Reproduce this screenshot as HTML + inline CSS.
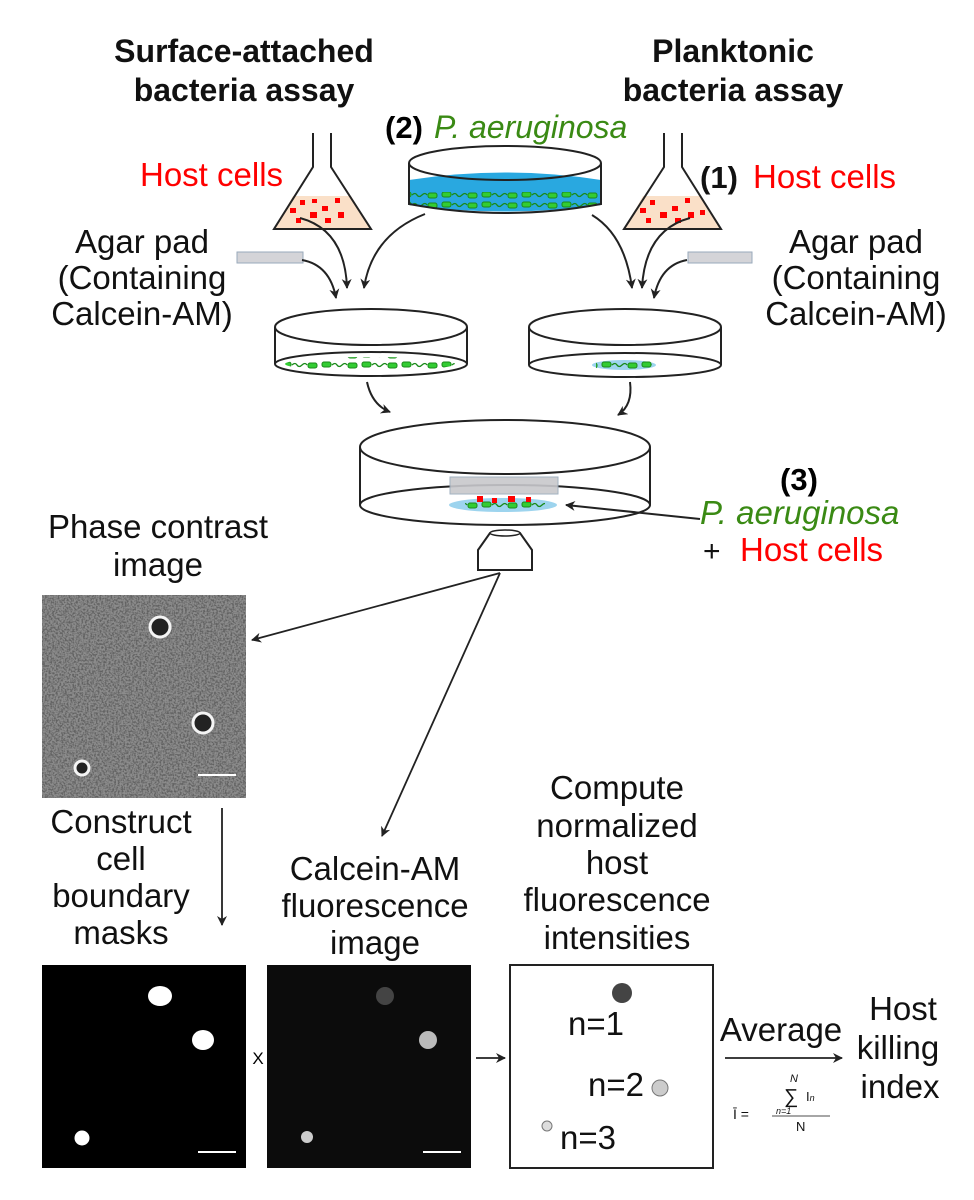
<!DOCTYPE html>
<html><head><meta charset="utf-8"><style>
html,body{margin:0;padding:0;background:#fff}
svg{display:block}
text{font-family:"Liberation Sans",sans-serif}
</style></head><body>
<svg width="974" height="1200" viewBox="0 0 974 1200" xmlns="http://www.w3.org/2000/svg">
<defs>
<marker id="ah" markerWidth="10" markerHeight="10" refX="9" refY="5" orient="auto" markerUnits="userSpaceOnUse">
<path d="M0,0 L10,5 L0,10 L3,5 Z" fill="#222"/></marker>
<filter id="noise" x="0" y="0" width="100%" height="100%">
<feTurbulence type="fractalNoise" baseFrequency="0.55" numOctaves="2" seed="3"/>
<feColorMatrix type="matrix" values="0 0 0 0 0.12  0 0 0 0 0.12  0 0 0 0 0.12  -3.5 0 0 0 2.1"/>
</filter>
<pattern id="bac" width="40" height="10" patternUnits="userSpaceOnUse">
<rect x="2" y="2" width="9" height="5" rx="2" fill="#3c3" stroke="#1a8a1a" stroke-width="1"/>
<path d="M12,5 q3,-3 5,0 t5,0 t5,0" stroke="#1a8a1a" fill="none" stroke-width="1.3"/>
<rect x="28" y="3" width="9" height="5" rx="2" fill="#3c3" stroke="#1a8a1a" stroke-width="1"/>
</pattern>
</defs>

<g font-weight="bold" font-size="32" text-anchor="middle" fill="#111">
<text x="244" y="62">Surface-attached</text>
<text x="244" y="101">bacteria assay</text>
<text x="733" y="62">Planktonic</text>
<text x="733" y="101">bacteria assay</text>
</g>
<text x="385" y="138" font-size="31" font-weight="bold">(2)</text>
<text x="434" y="138" font-size="32" font-style="italic" fill="#3a8a14">P. aeruginosa</text>
<text x="140" y="186" font-size="33" fill="#f00">Host cells</text>
<text x="700" y="188" font-size="31" font-weight="bold" fill="#111">(1)</text>
<text x="753" y="188" font-size="33" fill="#f00">Host cells</text>

<!-- left flask -->
<path d="M293,196 H351 L370,228 H275 Z" fill="#fae0c8"/>
<path d="M313,133 V167 L274,229 H371 L331,167 V133" stroke="#222" stroke-width="2" fill="none"/>
<g fill="#f00"><rect x="290" y="208" width="6" height="5"/><rect x="300" y="200" width="5" height="5"/><rect x="310" y="212" width="7" height="6"/><rect x="322" y="206" width="6" height="5"/><rect x="335" y="198" width="5" height="5"/><rect x="338" y="212" width="6" height="6"/><rect x="296" y="218" width="5" height="5"/><rect x="325" y="218" width="6" height="5"/><rect x="312" y="199" width="5" height="4"/></g>
<!-- right flask -->
<path d="M643,196 H701 L720,228 H625 Z" fill="#fae0c8"/>
<path d="M664,133 V167 L624,229 H721 L682,167 V133" stroke="#222" stroke-width="2" fill="none"/>
<g fill="#f00"><rect x="640" y="208" width="6" height="5"/><rect x="650" y="200" width="5" height="5"/><rect x="660" y="212" width="7" height="6"/><rect x="672" y="206" width="6" height="5"/><rect x="685" y="198" width="5" height="5"/><rect x="688" y="212" width="6" height="6"/><rect x="646" y="218" width="5" height="5"/><rect x="675" y="218" width="6" height="5"/><rect x="700" y="210" width="5" height="5"/></g>

<!-- center dish -->
<path d="M409,180 Q505,165 601,180 V205 Q505,218 409,205 Z" fill="#29a8e0"/>
<path d="M409,192 H601 V205 Q505,218 409,205 Z" fill="url(#bac)"/>
<ellipse cx="505" cy="163" rx="96" ry="17" fill="none" stroke="#222" stroke-width="2"/>
<path d="M409,163 V204 Q505,222 601,204 V163" fill="none" stroke="#222" stroke-width="2"/>

<!-- agar pads -->
<rect x="237" y="252" width="66" height="11" fill="#d4d4d8" stroke="#9ab" stroke-width="1"/>
<rect x="688" y="252" width="64" height="11" fill="#d4d4d8" stroke="#9ab" stroke-width="1"/>
<g font-size="33" text-anchor="middle" fill="#111">
<text x="142" y="253">Agar pad</text><text x="142" y="289">(Containing</text><text x="142" y="325">Calcein-AM)</text>
<text x="856" y="253">Agar pad</text><text x="856" y="289">(Containing</text><text x="856" y="325">Calcein-AM)</text>
</g>

<!-- arrows top -->
<g stroke="#222" stroke-width="2" fill="none" marker-end="url(#ah)">
<path d="M302,260 Q330,265 336,298"/>
<path d="M300,218 Q345,230 347,288"/>
<path d="M425,214 Q372,235 364,288"/>
<path d="M687,260 Q660,265 654,298"/>
<path d="M690,218 Q645,230 642,288"/>
<path d="M592,215 Q625,235 632,288"/>
<path d="M367,382 Q372,405 390,412"/>
<path d="M630,382 Q633,405 618,415"/>
</g>

<!-- mid dishes -->
<ellipse cx="371" cy="327" rx="96" ry="18" fill="none" stroke="#222" stroke-width="2"/>
<ellipse cx="371" cy="364" rx="96" ry="12" fill="#fff" stroke="#222" stroke-width="2"/>
<ellipse cx="370" cy="364" rx="85" ry="7" fill="url(#bac)"/>
<path d="M275,327 V364 M467,327 V364" stroke="#222" stroke-width="2"/>
<ellipse cx="625" cy="327" rx="96" ry="18" fill="none" stroke="#222" stroke-width="2"/>
<ellipse cx="625" cy="365" rx="96" ry="12" fill="#fff" stroke="#222" stroke-width="2"/>
<ellipse cx="624" cy="365" rx="32" ry="5" fill="#9dd4ee"/>
<rect x="596" y="361" width="56" height="8" fill="url(#bac)"/>
<path d="M529,327 V365 M721,327 V365" stroke="#222" stroke-width="2"/>

<!-- big dish -->
<ellipse cx="505" cy="447" rx="145" ry="27" fill="none" stroke="#222" stroke-width="2"/>
<path d="M360,447 V505 M650,447 V505" stroke="#222" stroke-width="2"/>
<ellipse cx="505" cy="505" rx="145" ry="20" fill="none" stroke="#222" stroke-width="2"/>
<ellipse cx="503" cy="505" rx="54" ry="7" fill="#9dd4ee"/>
<rect x="465" y="500" width="80" height="10" fill="url(#bac)"/>
<rect x="450" y="477" width="108" height="17" fill="#c8c8cc" stroke="#9ab" stroke-width="1" opacity="0.9"/>
<g fill="#f00"><rect x="477" y="496" width="6" height="6"/><rect x="492" y="498" width="5" height="5"/><rect x="508" y="496" width="7" height="6"/><rect x="526" y="497" width="5" height="5"/></g>
<path d="M700,519 L566,505" stroke="#222" stroke-width="2" fill="none" marker-end="url(#ah)"/>

<text x="780" y="490" font-size="31" font-weight="bold">(3)</text>
<text x="700" y="524" font-size="33" font-style="italic" fill="#3a8a14">P. aeruginosa</text>
<text x="703" y="561" font-size="30" fill="#111">+</text>
<text x="740" y="561" font-size="33" fill="#f00">Host cells</text>

<!-- objective -->
<path d="M490,533 H520 L532,550 V570 H478 V550 Z" fill="#fff" stroke="#222" stroke-width="2"/>
<ellipse cx="505" cy="533" rx="15" ry="3" fill="#fff" stroke="#222" stroke-width="1.5"/>

<text x="158" y="538" font-size="33" text-anchor="middle" fill="#111">Phase contrast</text>
<text x="158" y="576" font-size="33" text-anchor="middle" fill="#111">image</text>

<!-- phase image -->
<rect x="42" y="595" width="204" height="203" fill="#8c8c8c"/>
<rect x="42" y="595" width="204" height="203" filter="url(#noise)"/>
<g stroke="#f4f4f4" stroke-width="3" fill="#222">
<circle cx="160" cy="627" r="10"/><circle cx="203" cy="723" r="10"/><circle cx="82" cy="768" r="7"/>
</g>
<line x1="198" y1="775" x2="236" y2="775" stroke="#fff" stroke-width="2"/>

<g stroke="#222" stroke-width="1.8" fill="none" marker-end="url(#ah)">
<path d="M500,573 L252,640"/>
<path d="M500,573 L382,836"/>
<path d="M222,808 V925"/>
<path d="M476,1058 H505"/>
<path d="M725,1058 H842"/>
</g>

<g font-size="33" text-anchor="middle" fill="#111">
<text x="121" y="833">Construct</text><text x="121" y="870">cell</text><text x="121" y="907">boundary</text><text x="121" y="944">masks</text>
<text x="375" y="880">Calcein-AM</text><text x="375" y="917">fluorescence</text><text x="375" y="954">image</text>
<text x="617" y="799">Compute</text><text x="617" y="837">normalized</text><text x="617" y="874">host</text><text x="617" y="911">fluorescence</text><text x="617" y="949">intensities</text>
<text x="781" y="1041">Average</text>
<text x="903" y="1020">Host</text><text x="898" y="1059">killing</text><text x="900" y="1098">index</text>
</g>

<!-- mask images -->
<rect x="42" y="965" width="204" height="203" fill="#000"/>
<g fill="#fff"><ellipse cx="160" cy="996" rx="12" ry="10"/><ellipse cx="203" cy="1040" rx="11" ry="10"/><circle cx="82" cy="1138" r="7.5"/></g>
<line x1="198" y1="1152" x2="236" y2="1152" stroke="#fff" stroke-width="2"/>
<text x="258" y="1064" font-family="Liberation Serif" font-size="17" text-anchor="middle">X</text>
<rect x="267" y="965" width="204" height="203" fill="#0c0c0c"/>
<circle cx="385" cy="996" r="9" fill="#444"/>
<circle cx="428" cy="1040" r="9" fill="#bbb"/>
<circle cx="307" cy="1137" r="6" fill="#ccc"/>
<line x1="423" y1="1152" x2="461" y2="1152" stroke="#fff" stroke-width="2"/>

<!-- box -->
<rect x="510" y="965" width="203" height="203" fill="#fff" stroke="#222" stroke-width="2"/>
<circle cx="622" cy="993" r="10" fill="#444"/>
<circle cx="660" cy="1088" r="8" fill="#ccc" stroke="#777"/>
<circle cx="547" cy="1126" r="5" fill="#ddd" stroke="#777"/>
<g font-size="33" fill="#111">
<text x="568" y="1035">n=1</text><text x="588" y="1096">n=2</text><text x="560" y="1149">n=3</text>
</g>
<g font-family="Liberation Serif" fill="#111">
<text x="790" y="1082" font-size="11" font-style="italic">N</text>
<text x="784" y="1103" font-size="20">∑</text>
<text x="806" y="1101" font-size="13">I<tspan font-size="9" font-style="italic">n</tspan></text>
<text x="776" y="1114" font-size="9" font-style="italic">n=1</text>
<text x="733" y="1119" font-size="14">Ī =</text>
<line x1="772" y1="1116" x2="830" y2="1116" stroke="#111" stroke-width="0.8"/>
<text x="796" y="1131" font-size="13">N</text>
</g>
</svg>
</body></html>
